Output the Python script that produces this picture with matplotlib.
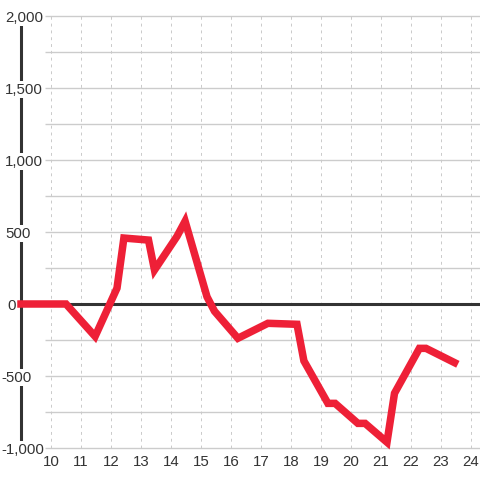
import matplotlib
matplotlib.use("Agg")
import matplotlib.pyplot as plt

# data
hours = [9.0, 10.5, 11.47, 12.2, 12.43, 13.25, 13.45, 14.2, 14.47, 15.2, 15.45,
         16.23, 17.23, 18.2, 18.43, 19.23, 19.47, 20.23, 20.47, 21.2, 21.45,
         22.28, 22.5, 23.45]
values = [0, 0, -225, 110, 458, 444, 236, 470, 575, 50, -50,
          -238, -134, -141, -395, -690, -690, -829, -829, -960, -620,
          -308, -308, -407]
x_ticks = list(range(10, 25))
y_ticks = [2000, 1500, 1000, 500, 0, -500, -1000]
y_minor = [1750, 1250, 750, 250, -250, -750]

plt.rcParams['font.family'] = ['Liberation Sans', 'DejaVu Sans']

fig = plt.figure(figsize=(4.8, 4.8), dpi=100)
ax = fig.add_axes([0, 0, 1, 1])
ax.set_axis_off()

# pixel mapping: x=9 at px 21, 30 px per unit; y=2000 at px 16, 3000 per 432 px
upx = 1 / 30.0
vpx = 3000 / 432.0
ax.set_xlim(9 - 21 * upx, 9 - 21 * upx + 480 * upx)
ax.set_ylim(2000 - (480 - 16) * vpx, 2000 + 16 * vpx)

x_grid0 = 9 + 24 * upx
x_right = 9 - 21 * upx + 480 * upx

# horizontal grid
for v in y_ticks + y_minor:
    if v == 0:
        continue
    ax.hlines(v, x_grid0, x_right, color='#cccccc', lw=1, zorder=1)

# vertical dotted grid
ax.vlines(x_ticks, -1000, 2000, color='#cacaca', lw=0.7,
          linestyles=(0, (3, 4)), zorder=1)

# zero line
ax.hlines(0, 9, x_right, color='#333333', lw=2.2, zorder=2)

# left axis line
ax.vlines(9, -1000, 2000, color='#333333', lw=2.2, zorder=2)

# y labels with white background over the axis line
for v in y_ticks:
    lab = '{:,}'.format(v)
    xpos = 9 - 16 * upx if v >= 0 else 9 - 20 * upx
    if v == 0:
        xpos = 9 - 14 * upx
    ax.text(xpos, v - 1.5 * vpx, lab, ha='left', va='center', fontsize=10.8,
            color='#333333', zorder=4,
            bbox=dict(fc='white', ec='none', pad=1))

# x labels
for t in x_ticks:
    ax.text(t, 2000 - (462 - 16) * vpx, str(t), ha='center', va='center',
            fontsize=10.8, color='#333333', zorder=4)

# data line
ax.plot(hours, values, color='#ee2037', lw=5.4, solid_joinstyle='miter',
        solid_capstyle='projecting', zorder=5, clip_on=False)

fig.savefig('out.png', dpi=100)
